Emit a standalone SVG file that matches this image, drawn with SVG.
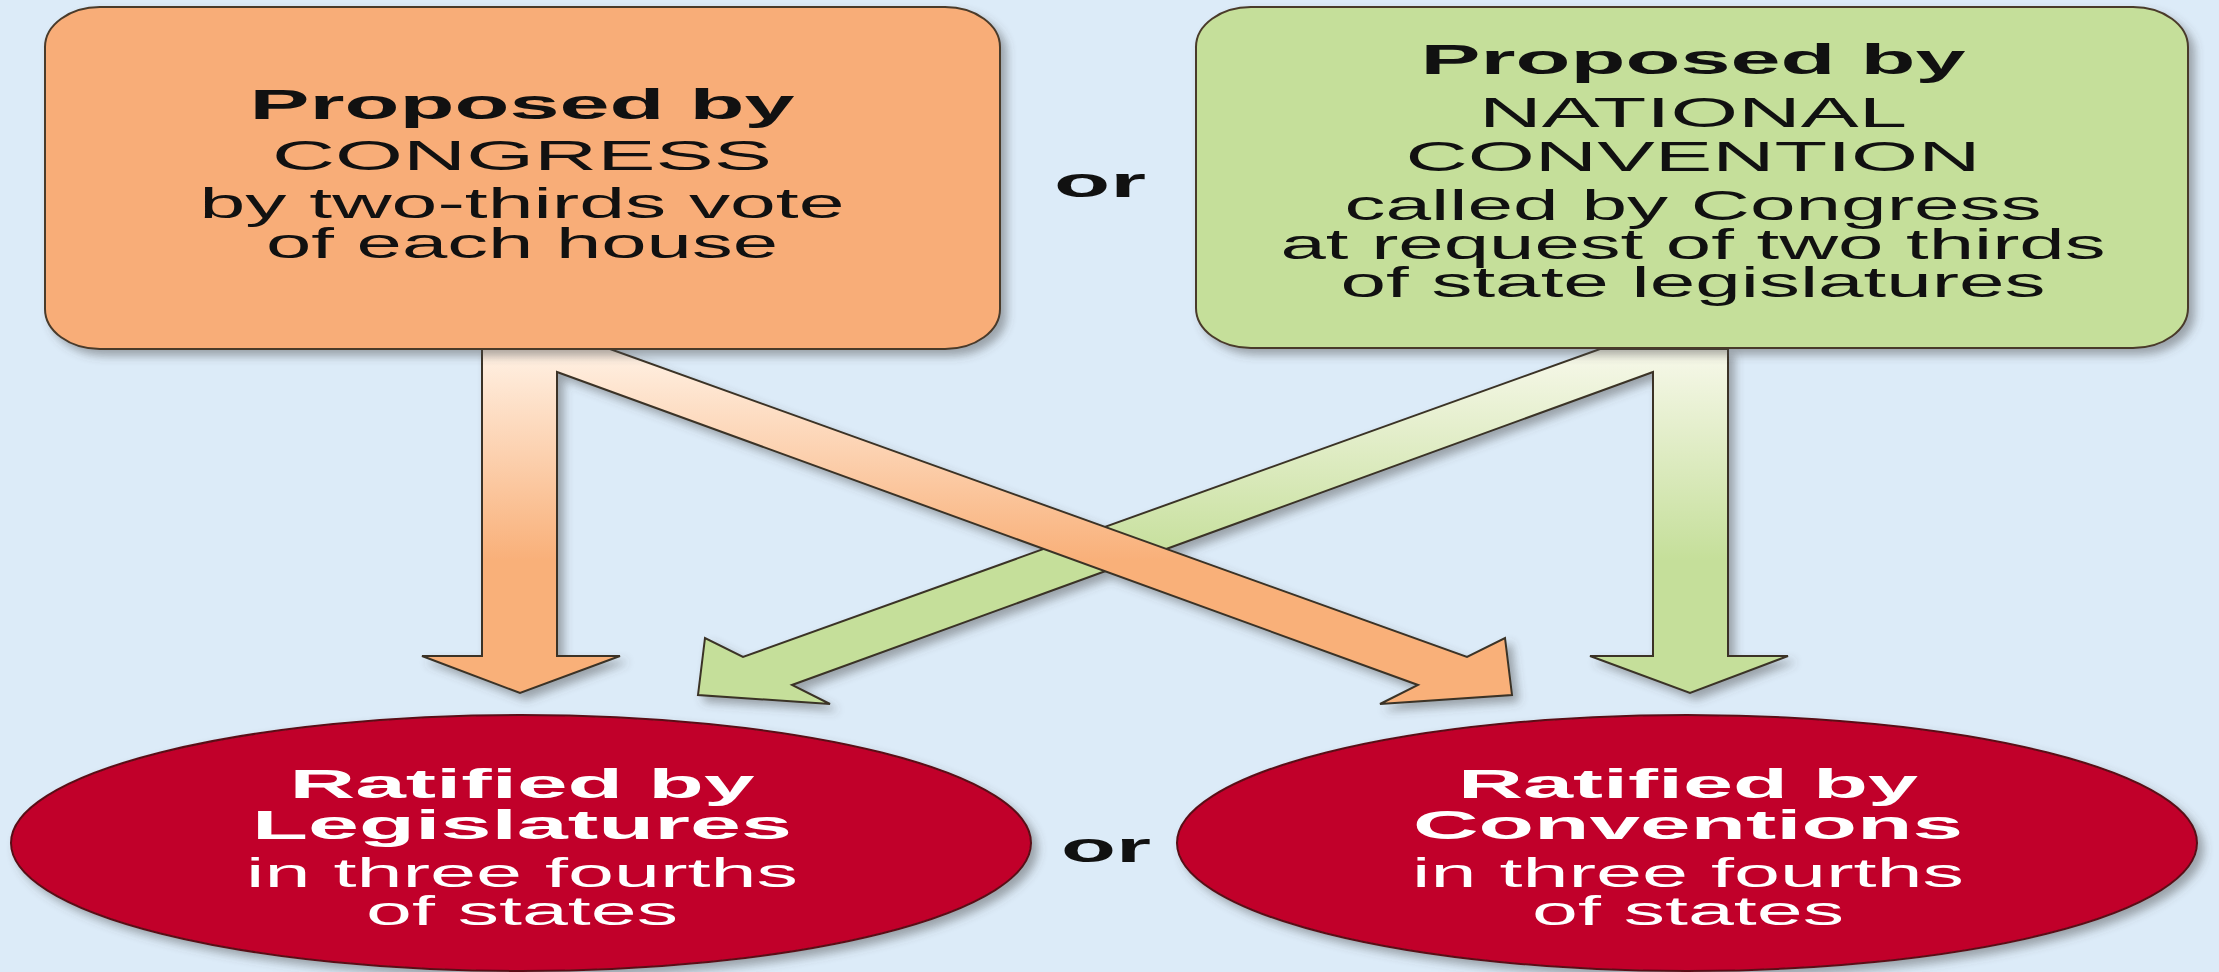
<svg xmlns="http://www.w3.org/2000/svg" width="2219" height="972" viewBox="0 0 2219 972">
  <defs>
    <filter id="shadow" x="-10%" y="-10%" width="125%" height="130%">
      <feDropShadow dx="6" dy="6" stdDeviation="5" flood-color="#4a4a4a" flood-opacity="0.45"/>
    </filter>
    <linearGradient id="orangeFade" gradientUnits="userSpaceOnUse" x1="0" y1="350" x2="0" y2="560">
      <stop offset="0" stop-color="#fff1e4"/>
      <stop offset="1" stop-color="#f9b079"/>
    </linearGradient>
    <linearGradient id="greenFade" gradientUnits="userSpaceOnUse" x1="0" y1="350" x2="0" y2="560">
      <stop offset="0" stop-color="#f7f8ea"/>
      <stop offset="1" stop-color="#c5df9a"/>
    </linearGradient>
    <style>
      .box { stroke: #4a3a2a; stroke-width: 2; }
      .arrow { stroke: #3a3326; stroke-width: 2; stroke-linejoin: miter; }
      .oval { fill: #c1002b; stroke: #5a0f18; stroke-width: 2; }
      .t { font-family: "Liberation Sans", Arial, Helvetica, sans-serif; text-anchor: middle; font-size: 43px; }
      .b { font-weight: bold; font-size: 42px; }
      .e { font-size: 40px; }
      .dark { fill: #111111; }
      .light { fill: #ffffff; }
    </style>
  </defs>

  <!-- background -->
  <rect x="0" y="0" width="2219" height="972" fill="#dcebf8"/>

  <!-- connectors: branching arrows from each proposal box -->
  <g id="connectors" filter="url(#shadow)">
    <polygon id="arrows-convention" class="arrow" fill="url(#greenFade)"
      points="1728,349 1600,349 743,657 705,638 698,695 830,704 792,685 1653,372 1653,656 1590,656 1690,693 1788,656 1728,656"/>
    <polygon id="arrows-congress" class="arrow" fill="url(#orangeFade)"
      points="482,349 610,349 1467,657 1505,638 1512,695 1380,704 1418,685 557,372 557,656 620,656 520,693 422,656 482,656"/>
  </g>

  <!-- proposal by Congress -->
  <g id="node-congress">
    <rect class="box" x="45" y="7" width="955" height="342" rx="55" ry="40" fill="#f8ad78" filter="url(#shadow)"/>
    <text class="t b dark" x="522" y="119" textLength="545" lengthAdjust="spacingAndGlyphs">Proposed by</text>
    <text class="t dark" x="522" y="170" textLength="500" lengthAdjust="spacingAndGlyphs">CONGRESS</text>
    <text class="t dark" x="522" y="218" textLength="645" lengthAdjust="spacingAndGlyphs">by two-thirds vote</text>
    <text class="t dark" x="522" y="258" textLength="512" lengthAdjust="spacingAndGlyphs">of each house</text>
  </g>

  <!-- proposal by national convention -->
  <g id="node-convention">
    <rect class="box" x="1196" y="7" width="992" height="341" rx="55" ry="40" fill="#c5df9a" filter="url(#shadow)"/>
    <text class="t b dark" x="1693" y="74" textLength="545" lengthAdjust="spacingAndGlyphs">Proposed by</text>
    <text class="t dark" x="1693" y="127" textLength="428" lengthAdjust="spacingAndGlyphs">NATIONAL</text>
    <text class="t dark" x="1693" y="171" textLength="575" lengthAdjust="spacingAndGlyphs">CONVENTION</text>
    <text class="t dark" x="1693" y="220" textLength="697" lengthAdjust="spacingAndGlyphs">called by Congress</text>
    <text class="t dark" x="1693" y="259" textLength="825" lengthAdjust="spacingAndGlyphs">at request of two thirds</text>
    <text class="t dark" x="1693" y="297" textLength="705" lengthAdjust="spacingAndGlyphs">of state legislatures</text>
  </g>

  <g id="label-or-top">
    <text class="t b dark" x="1100" y="197" textLength="92" lengthAdjust="spacingAndGlyphs">or</text>
  </g>

  <!-- ratification by state legislatures -->
  <g id="node-legislatures">
    <ellipse class="oval" cx="521" cy="843" rx="510" ry="128" filter="url(#shadow)"/>
    <text class="t b e light" x="522" y="798" textLength="465" lengthAdjust="spacingAndGlyphs">Ratified by</text>
    <text class="t b e light" x="522" y="839" textLength="540" lengthAdjust="spacingAndGlyphs">Legislatures</text>
    <text class="t e light" x="522" y="887" textLength="552" lengthAdjust="spacingAndGlyphs">in three fourths</text>
    <text class="t e light" x="522" y="925" textLength="312" lengthAdjust="spacingAndGlyphs">of states</text>
  </g>

  <g id="label-or-bottom">
    <text class="t b dark" x="1106" y="862" textLength="90" lengthAdjust="spacingAndGlyphs">or</text>
  </g>

  <!-- ratification by state conventions -->
  <g id="node-conventions">
    <ellipse class="oval" cx="1687" cy="843" rx="510" ry="128" filter="url(#shadow)"/>
    <text class="t b e light" x="1688" y="798" textLength="460" lengthAdjust="spacingAndGlyphs">Ratified by</text>
    <text class="t b e light" x="1688" y="839" textLength="550" lengthAdjust="spacingAndGlyphs">Conventions</text>
    <text class="t e light" x="1688" y="887" textLength="552" lengthAdjust="spacingAndGlyphs">in three fourths</text>
    <text class="t e light" x="1688" y="925" textLength="312" lengthAdjust="spacingAndGlyphs">of states</text>
  </g>
</svg>
